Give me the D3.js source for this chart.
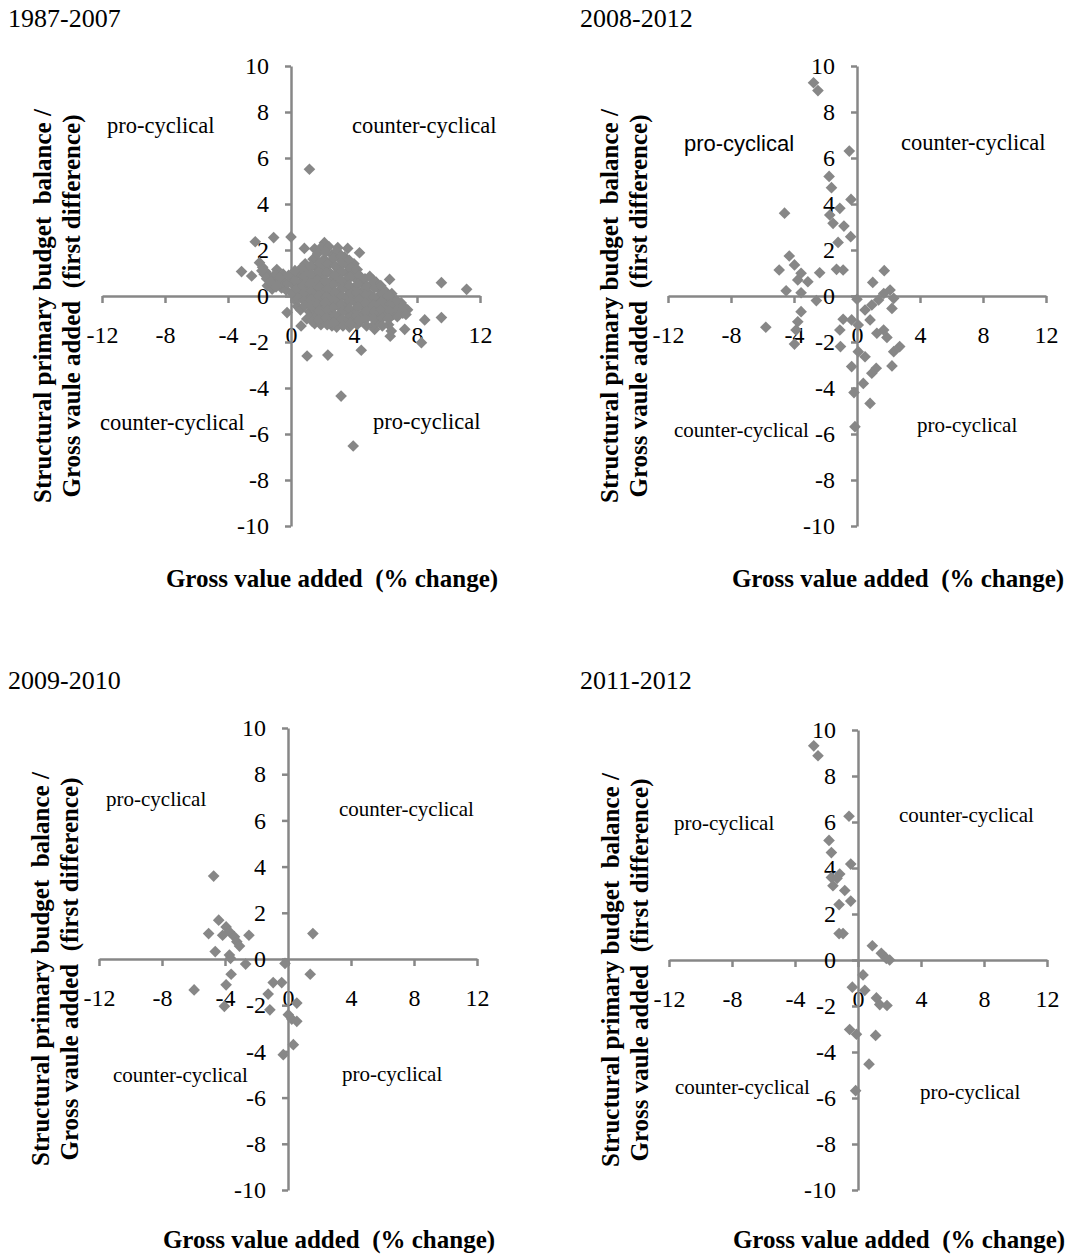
<!DOCTYPE html>
<html>
<head>
<meta charset="utf-8">
<script src="https://cdn.jsdelivr.net/npm/d3@7"></script>
<style>
  body { margin: 0; background: #fff; }
  svg text { font-family: "Liberation Serif", "Times New Roman", serif; fill: #000; }
</style>
</head>
<body>
<div id="chart"></div>
<script>
// Chart text
const panelTitles = ["1987-2007", "2008-2012", "2009-2010", "2011-2012"];
const xAxisTitle = "Gross value added  (% change)";
const yAxisTitle = ["Structural primary budget  balance /", "Gross vaule added  (first difference)"];
const quadrantLabels = ["pro-cyclical", "counter-cyclical", "counter-cyclical", "pro-cyclical"];
const xTicks = [-12, -8, -4, 0, 4, 8, 12];
const yTicks = [-10, -8, -6, -4, -2, 0, 2, 4, 6, 8, 10];

// [gross value added % change, structural primary balance first difference]
const points1987_2007 = [
  // outliers
  [1.17, 5.51], [-2.27, 2.36], [-1.1, 2.54], [0, 2.57], [-3.14, 1.06], [-2.5, 0.87],
  [0.85, 2.07], [1.5, 2.05], [2.12, 2.32], [2.97, 2.1], [3.6, 2.07], [4.35, 1.88],
  [9.55, 0.58], [11.15, 0.29], [9.55, -0.94], [8.49, -1.04], [8.28, -2.03],
  [6.37, -1.52], [6.3, -1.75], [7.22, -1.45], [-0.25, -0.72], [0.64, -1.3],
  [1.02, -2.61], [2.34, -2.57], [4.46, -2.36], [5.31, -1.45], [6.26, 0.72],
  [3.18, -4.35], [3.95, -6.52],
  // main cloud
  [-2.0, 1.45], [-1.8, 1.25], [-1.6, 1.05], [-1.4, 0.85], [-1.7, 0.95], [-1.5, 0.45],
  [-1.1, 0.75], [-0.9, 1.15], [-0.8, 0.55], [-1.2, 0.3],
  [-0.5, 0.95], [-0.4, 0.6], [-0.6, 0.35], [-0.3, 0.25],
  [0.1, 0.8], [0.2, 0.45], [0.1, 0.1], [0.3, -0.2], [0.4, -0.45],
  [0.5, 1.0], [0.6, 0.6], [0.5, 0.25], [0.7, -0.05], [0.6, -0.6],
  [0.9, 1.4], [1.1, 1.1], [1.0, 0.7], [0.9, 0.35], [1.1, 0.0], [1.0, -0.3], [1.2, -0.7], [1.0, -1.0],
  [1.4, 1.6], [1.6, 1.25], [1.5, 0.9], [1.4, 0.5], [1.6, 0.15], [1.5, -0.2], [1.4, -0.55], [1.6, -0.9], [1.5, -1.2],
  [1.9, 2.1], [2.1, 1.6], [2.0, 1.2], [1.9, 0.85], [2.1, 0.5], [2.0, 0.2], [1.9, -0.15], [2.1, -0.45],
  [2.0, -0.8], [2.2, -1.1], [1.9, -1.25],
  [2.4, 2.15], [2.6, 1.8], [2.5, 1.45], [2.4, 1.05], [2.6, 0.7], [2.5, 0.35], [2.4, 0.0], [2.6, -0.3],
  [2.5, -0.65], [2.4, -1.0], [2.6, -1.3],
  [2.9, 1.95], [3.1, 1.6], [3.0, 1.25], [2.9, 0.9], [3.1, 0.55], [3.0, 0.2], [2.9, -0.15], [3.1, -0.5],
  [3.0, -0.85], [3.2, -1.15], [2.9, -1.35],
  [3.4, 1.7], [3.6, 1.35], [3.5, 1.0], [3.4, 0.6], [3.6, 0.3], [3.5, -0.05], [3.4, -0.4], [3.6, -0.75],
  [3.5, -1.1], [3.7, -1.35],
  [4.0, 1.4], [3.9, 1.0], [4.1, 0.75], [4.0, 0.35], [3.9, 0.0], [4.1, -0.3], [4.0, -0.65], [3.9, -1.0], [4.2, -1.25],
  [4.4, 0.85], [4.6, 0.55], [4.5, 0.2], [4.4, -0.15], [4.6, -0.45], [4.5, -0.8], [4.4, -1.1],
  [5.0, 0.85], [5.1, 0.5], [4.9, 0.15], [5.0, -0.2], [5.1, -0.55], [4.9, -0.85], [5.2, -1.3],
  [5.4, 0.6], [5.6, 0.3], [5.5, -0.05], [5.4, -0.4], [5.6, -0.75], [5.5, -1.05],
  [6.0, 0.2], [6.1, -0.15], [5.9, -0.5], [6.0, -0.85], [6.2, -1.25],
  [6.4, 0.1], [6.4, -0.2], [6.6, -0.5], [6.5, -0.8],
  [6.9, -0.45], [7.1, -0.75], [7.0, -0.3], [7.4, -0.6],
  // cloud, in-between points
  [-1.85, 1.1], [-1.55, 0.75], [-1.3, 0.6], [-1.0, 0.95], [-0.95, 0.4], [-0.7, 0.8], [-0.2, 0.55], [-0.15, 0.9],
  [0.3, 0.65], [0.35, 0.3], [0.45, -0.1], [0.25, 1.1],
  [0.8, 0.85], [0.75, 0.45], [0.85, 0.15], [0.8, -0.2], [0.85, -0.45], [0.7, 1.25],
  [1.25, 1.3], [1.3, 0.9], [1.2, 0.55], [1.3, 0.2], [1.25, -0.15], [1.3, -0.45], [1.2, -0.95], [1.35, -1.1],
  [1.7, 1.85], [1.8, 1.45], [1.75, 1.05], [1.7, 0.7], [1.8, 0.35], [1.75, 0.0], [1.7, -0.35], [1.8, -0.65], [1.75, -1.05],
  [2.2, 1.9], [2.3, 1.4], [2.25, 1.0], [2.2, 0.65], [2.3, 0.3], [2.25, -0.05], [2.2, -0.3], [2.3, -0.6],
  [2.25, -0.95], [2.3, -1.25],
  [2.7, 1.65], [2.8, 1.3], [2.75, 0.9], [2.7, 0.5], [2.8, 0.15], [2.75, -0.2], [2.7, -0.5], [2.8, -0.85], [2.75, -1.15],
  [3.2, 1.75], [3.3, 1.4], [3.25, 1.05], [3.2, 0.7], [3.3, 0.35], [3.25, 0.0], [3.2, -0.35], [3.3, -0.65],
  [3.25, -1.0], [3.3, -1.3],
  [3.7, 1.55], [3.8, 1.2], [3.75, 0.8], [3.7, 0.45], [3.8, 0.1], [3.75, -0.25], [3.7, -0.55], [3.8, -0.9], [3.75, -1.2],
  [4.2, 1.15], [4.3, 0.9], [4.25, 0.5], [4.2, 0.15], [4.3, -0.15], [4.25, -0.5], [4.2, -0.85], [4.3, -1.05],
  [4.7, 0.75], [4.8, 0.4], [4.75, 0.05], [4.7, -0.3], [4.8, -0.65], [4.75, -1.0], [4.8, -1.3],
  [5.2, 0.7], [5.3, 0.35], [5.25, -0.05], [5.2, -0.4], [5.3, -0.7], [5.25, -1.0],
  [5.7, 0.45], [5.8, 0.1], [5.75, -0.25], [5.7, -0.6], [5.8, -0.95], [5.8, -1.3],
  [6.2, 0.0], [6.3, -0.35], [6.25, -0.65], [6.2, -1.0],
  [6.7, -0.2], [6.8, -0.6], [6.75, -0.9], [7.2, -0.5], [7.3, -0.8]
];

const points2008_2012 = [
  [-2.76, 9.27], [-2.48, 8.93], [-0.49, 6.3], [-1.77, 5.2], [-1.62, 4.71], [-0.38, 4.2],
  [-4.6, 3.6], [-1.09, 3.81], [-1.73, 3.52], [-1.52, 3.16], [-0.83, 3.04], [-0.4, 2.58],
  [-1.2, 2.33], [-4.3, 1.74], [-4.94, 1.13], [-3.97, 1.35], [-3.55, 0.99], [-3.76, 0.7],
  [-3.12, 0.62], [-2.37, 1.01], [-1.3, 1.16], [-0.88, 1.13], [-4.5, 0.23], [-3.55, 0.14],
  [-2.58, -0.2], [-3.55, -0.68], [-3.76, -1.12], [-5.79, -1.36], [-3.87, -1.48], [-3.97, -2.09],
  [1.73, 1.1], [1.0, 0.59], [0.0, -0.14], [2.1, 0.26], [1.7, 0.11], [1.37, -0.17],
  [2.33, -0.1], [0.94, -0.39], [2.22, -0.54], [0.51, -0.61], [-0.88, -1.01], [-0.34, -1.04],
  [0.83, -1.04], [0.08, -1.26], [1.69, -1.48], [1.26, -1.62], [1.9, -1.8], [-1.09, -1.48],
  [-1.05, -2.2], [2.71, -2.2], [2.33, -2.42], [0.08, -2.42], [0.51, -2.64], [-0.34, -3.07],
  [2.22, -3.04], [1.22, -3.14], [0.94, -3.36], [0.4, -3.8], [-0.19, -4.2], [0.83, -4.67],
  [-0.13, -5.68]
];

const points2009_2010 = [
  [-4.72, 3.59], [-4.4, 1.68], [-5.04, 1.1], [-3.93, 1.39], [-3.72, 1.18], [-4.15, 1.03],
  [-3.4, 0.96], [-3.25, 0.75], [-3.08, 0.56], [-2.48, 1.03], [-4.62, 0.32], [-3.72, 0.17],
  [-3.65, 0.03], [-2.69, -0.22], [-3.61, -0.66], [-3.93, -1.12], [-5.96, -1.34], [-0.94, -1.02],
  [-0.4, -1.02], [-1.26, -1.52], [-4.04, -2.05], [-1.15, -2.2], [-0.19, -0.19], [1.58, 1.1],
  [1.41, -0.66], [0.56, -1.91], [0.02, -2.41], [0.24, -2.6], [0.56, -2.7], [0.34, -3.71],
  [-0.3, -4.14]
];

const points2011_2012 = [
  [-2.81, 9.31], [-2.54, 8.88], [-0.57, 6.25], [-1.84, 5.2], [-1.69, 4.67], [-0.46, 4.17],
  [-1.16, 3.74], [-1.69, 3.59], [-1.33, 3.55], [-1.59, 3.23], [-0.84, 3.02], [-0.46, 2.56],
  [-1.2, 2.41], [-1.2, 1.15], [-0.95, 1.15], [0.91, 0.62], [1.48, 0.29], [1.8, 0.07],
  [2.01, 0.0], [0.32, -0.65], [-0.36, -1.18], [0.43, -1.32], [1.17, -1.65], [1.38, -1.94],
  [1.84, -1.98], [-0.53, -3.02], [-0.1, -3.23], [1.12, -3.28], [0.7, -4.53], [-0.15, -5.68]
];

const panelData = [points1987_2007, points2008_2012, points2009_2010, points2011_2012];

// Page layout (pixels)
const width = 1073, height = 1254;
const axisColor = "#878787";
const markerColor = "#878787";

const panels = [
  { left: 102, right: 480, top: 66, bottom: 526, titleX: 8, titleY: 27,
    yTitleX: [51, 80], xTitleY: 587,
    quadSize: [22.5, 22.5, 22.5, 22.5],
    quadPos: [[107, 133], [352, 133], [100, 430], [373, 429]] },
  { left: 668, right: 1046, top: 66, bottom: 526, titleX: 580, titleY: 27,
    yTitleX: [618, 647], xTitleY: 587,
    quadSize: [22, 22.5, 21, 21],
    quadPos: [[684, 151], [901, 150], [674, 437], [917, 432]] },
  { left: 99, right: 477, top: 728, bottom: 1190, titleX: 8, titleY: 689,
    yTitleX: [49, 78], xTitleY: 1248,
    quadSize: [21, 21, 21, 21],
    quadPos: [[106, 806], [339, 816], [113, 1082], [342, 1081]] },
  { left: 669, right: 1047, top: 730, bottom: 1190, titleX: 580, titleY: 689,
    yTitleX: [619, 648], xTitleY: 1248,
    quadSize: [21, 21, 21, 21],
    quadPos: [[674, 830], [899, 822], [675, 1094], [920, 1099]] }
];

const svg = d3.select("#chart")
  .append("svg")
  .attr("width", width)
  .attr("height", height);

panels.forEach((p, i) => drawPanel(p, panelData[i], panelTitles[i], i));

function drawPanel(p, points, title, index) {
  const x = d3.scaleLinear().domain([-12, 12]).range([p.left, p.right]);
  const y = d3.scaleLinear().domain([-10, 10]).range([p.bottom, p.top]);
  const g = svg.append("g");

  // Panel title
  g.append("text")
    .attr("x", p.titleX)
    .attr("y", p.titleY)
    .attr("font-size", 26)
    .text(title);

  // Horizontal axis through y = 0
  const xAxisG = g.append("g")
    .attr("transform", `translate(0,${y(0)})`)
    .call(d3.axisBottom(x).tickValues(xTicks).tickSize(7).tickSizeOuter(0)
      .tickPadding(23).tickFormat((d) => String(d)));
  styleAxis(xAxisG);

  // Vertical axis through x = 0
  const yAxisG = g.append("g")
    .attr("transform", `translate(${x(0)},0)`)
    .call(d3.axisLeft(y).tickValues(yTicks).tickSize(6).tickSizeOuter(0)
      .tickPadding(16).tickFormat((d) => String(d)));
  styleAxis(yAxisG);

  // Quadrant labels
  quadrantLabels.forEach((label, k) => {
    const t = g.append("text")
      .attr("x", p.quadPos[k][0])
      .attr("y", p.quadPos[k][1])
      .attr("font-size", p.quadSize[k])
      .text(label);
    // the upper-left label in the 2008-2012 panel is set in a sans font
    if (index === 1 && k === 0) {
      t.style("font-family", "'Liberation Sans', Arial, sans-serif");
    }
  });

  // Axis titles
  g.append("text")
    .attr("x", x(0) + 41)
    .attr("y", p.xTitleY)
    .attr("text-anchor", "middle")
    .attr("font-size", 25)
    .attr("font-weight", "bold")
    .style("white-space", "pre")
    .text(xAxisTitle);

  const yMid = (p.top + p.bottom) / 2 + 10;
  yAxisTitle.forEach((line, k) => {
    g.append("text")
      .attr("transform", `translate(${p.yTitleX[k]},${yMid}) rotate(-90)`)
      .attr("text-anchor", "middle")
      .attr("font-size", 25)
      .attr("font-weight", "bold")
      .style("white-space", "pre")
      .text(line);
  });

  // Diamond markers
  const diamond = d3.symbol().type(d3.symbolSquare).size(68);
  g.append("g")
    .selectAll("path")
    .data(points)
    .join("path")
    .attr("d", diamond)
    .attr("transform", (d) => `translate(${x(d[0])},${y(d[1])}) rotate(45)`)
    .attr("fill", markerColor);
}

function styleAxis(axisG) {
  axisG.attr("font-family", null).attr("font-size", null);
  axisG.select(".domain").attr("stroke", axisColor).attr("stroke-width", 2.5);
  axisG.selectAll(".tick line").attr("stroke", axisColor).attr("stroke-width", 2.5);
  axisG.selectAll(".tick text").attr("font-size", 24).attr("fill", "#000");
}
</script>
</body>
</html>
